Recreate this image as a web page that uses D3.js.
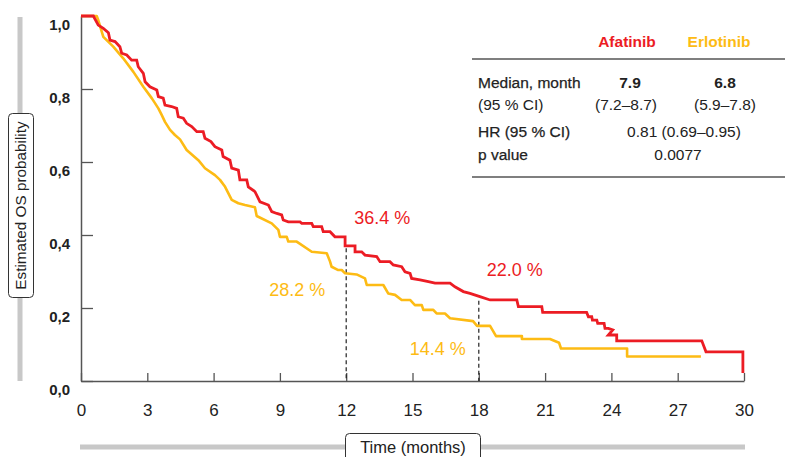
<!DOCTYPE html>
<html>
<head>
<meta charset="utf-8">
<script src="https://cdn.jsdelivr.net/npm/d3@7"></script>
<style>
  body { margin: 0; background: #fff; }
  text { font-family: "Liberation Sans", Arial, Helvetica, sans-serif; }
</style>
</head>
<body>
<div id="chart"></div>
<script>

// Kaplan-Meier curves (months, survival)
var afatinibTime = [0, 0.56, 0.78, 1.01, 1.24, 1.31, 1.54, 1.76, 1.84, 2.07, 2.29, 2.52, 2.59, 2.82, 2.90, 3.12, 3.43, 3.50, 3.72, 3.80, 4.10, 4.33, 4.40, 4.63, 4.78, 5.01, 5.24, 5.53, 5.61, 5.88, 6.06, 6.37, 6.43, 6.74, 6.82, 7.12, 7.19, 7.50, 7.57, 7.87, 8.10, 8.48, 8.63, 8.86, 9.08, 9.15, 9.38, 9.91, 9.99, 10.44, 10.51, 10.89, 10.96, 11.27, 11.49, 11.95, 11.95, 12.40, 12.40, 12.70, 12.85, 13.38, 13.53, 13.98, 14.13, 14.51, 14.66, 14.89, 14.96, 15.34, 15.72, 16.02, 16.70, 16.92, 17.30, 17.60, 18.05, 18.51, 19.72, 19.79, 20.85, 20.89, 22.88, 22.96, 23.11, 23.14, 23.34, 23.38, 23.67, 23.71, 23.86, 24.06, 23.86, 24.24, 24.24, 28.09, 28.28, 29.95, 29.95]
var afatinibSurv = [1.0, 1.0, 0.975, 0.966, 0.954, 0.934, 0.930, 0.916, 0.898, 0.893, 0.879, 0.879, 0.861, 0.843, 0.820, 0.806, 0.797, 0.779, 0.775, 0.756, 0.752, 0.747, 0.724, 0.720, 0.706, 0.697, 0.683, 0.683, 0.665, 0.656, 0.642, 0.633, 0.615, 0.605, 0.583, 0.578, 0.551, 0.551, 0.532, 0.519, 0.491, 0.482, 0.464, 0.459, 0.455, 0.441, 0.436, 0.436, 0.432, 0.432, 0.423, 0.423, 0.409, 0.409, 0.395, 0.395, 0.370, 0.370, 0.354, 0.354, 0.345, 0.341, 0.327, 0.327, 0.318, 0.313, 0.299, 0.295, 0.281, 0.277, 0.272, 0.268, 0.268, 0.258, 0.245, 0.240, 0.231, 0.222, 0.222, 0.204, 0.204, 0.188, 0.188, 0.176, 0.176, 0.167, 0.167, 0.158, 0.158, 0.144, 0.144, 0.140, 0.126, 0.126, 0.110, 0.110, 0.080, 0.080, 0.022]

var erlotinibTime = [0, 0.71, 0.78, 1.01, 1.46, 1.91, 2.37, 2.82, 3.20, 3.50, 3.65, 3.80, 4.03, 4.25, 4.48, 4.78, 5.31, 5.61, 6.06, 6.29, 6.52, 6.82, 7.12, 7.42, 7.87, 7.95, 8.63, 8.93, 9.00, 9.31, 9.38, 9.76, 10.44, 11.12, 11.27, 11.34, 11.64, 11.80, 11.95, 12.47, 12.85, 12.93, 13.68, 13.90, 14.21, 14.51, 14.89, 15.11, 15.42, 15.49, 15.94, 16.09, 16.47, 16.70, 17.74, 17.92, 18.51, 18.78, 19.95, 19.95, 21.22, 21.63, 21.72, 24.71, 24.71, 28.05]
var erlotinibSurv = [1.0, 1.0, 0.989, 0.943, 0.916, 0.884, 0.847, 0.806, 0.775, 0.747, 0.729, 0.710, 0.688, 0.674, 0.662, 0.633, 0.605, 0.583, 0.564, 0.551, 0.532, 0.496, 0.487, 0.482, 0.476, 0.452, 0.432, 0.414, 0.395, 0.395, 0.382, 0.382, 0.354, 0.350, 0.327, 0.313, 0.304, 0.304, 0.295, 0.292, 0.281, 0.263, 0.263, 0.240, 0.236, 0.222, 0.222, 0.208, 0.208, 0.195, 0.195, 0.185, 0.185, 0.172, 0.164, 0.151, 0.151, 0.123, 0.123, 0.115, 0.115, 0.105, 0.089, 0.089, 0.067, 0.067]

// landmark annotations
var landmarkTime = [12, 18]
var landmarkAfatinib = [0.364, 0.220]
var landmarkAfatinibText = ['36.4 %', '22.0 %']
var landmarkErlotinibText = ['28.2 %', '14.4 %']

// axis ticks
var xTicks = [0, 3, 6, 9, 12, 15, 18, 21, 24, 27, 30]
var yTicks = [0, 0.2, 0.4, 0.6, 0.8, 1.0]

// table content
var tableHead = ['Afatinib', 'Erlotinib']
var tableRows = ['Median, month', '(95 % CI)', 'HR (95 % CI)', 'p value']
var medianVals = ['7.9', '6.8']
var ciVals = ['(7.2\u20138.7)', '(5.9\u20137.8)']
var hrVal = '0.81 (0.69\u20130.95)'
var pVal = '0.0077'

var red = '#ec1c24'
var yellow = '#fdbb14'
var W = 785, H = 457

var svg = d3.select('#chart').append('svg')
    .attr('width', W)
    .attr('height', H)

var x = d3.scaleLinear().domain([0, 30]).range([81, 744])
var y = d3.scaleLinear().domain([0, 1]).range([381, 16])

// grey side bars + boxed axis titles
svg.append('rect')
  .attr('x', 17.5).attr('y', 17).attr('width', 5).attr('height', 364)
  .attr('fill', '#c8c8c8')

svg.append('rect')
  .attr('x', 8.5).attr('y', 113.5).attr('width', 25).attr('height', 184)
  .attr('rx', 4)
  .attr('fill', '#fff').attr('stroke', '#333').attr('stroke-width', 1)

svg.append('text')
  .attr('transform', 'translate(26,205.5) rotate(-90)')
  .attr('text-anchor', 'middle')
  .attr('font-size', 15.3)
  .attr('fill', '#222')
  .text('Estimated OS probability')

svg.append('rect')
  .attr('x', 80).attr('y', 444.5).attr('width', 665).attr('height', 5)
  .attr('fill', '#c8c8c8')

svg.append('rect')
  .attr('x', 345.5).attr('y', 433.5).attr('width', 135).attr('height', 40)
  .attr('rx', 4)
  .attr('fill', '#fff').attr('stroke', '#333').attr('stroke-width', 1)

svg.append('text')
  .attr('x', 413).attr('y', 453)
  .attr('text-anchor', 'middle')
  .attr('font-size', 16.5)
  .attr('fill', '#222')
  .text('Time (months)')

// y axis
var yAxis = svg.append('g')
  .attr('transform', 'translate(' + x(0) + ',0)')
  .call(d3.axisLeft(y).tickValues(yTicks).tickSize(-12).tickSizeOuter(0)
        .tickFormat(function(d) { return d3.format('.1f')(d).replace('.', ',') }))
yAxis.selectAll('line').attr('stroke', '#555').attr('stroke-width', 1.3)
yAxis.select('.domain').attr('stroke', '#555').attr('stroke-width', 1.5)
yAxis.selectAll('text')
  .attr('x', -11).attr('y', 13).attr('dy', 0)
  .attr('font-size', 15).attr('font-weight', 'bold')
  .attr('fill', '#222')
  .style('font-family', '"Liberation Sans", Arial, sans-serif')

// x axis
var xAxis = svg.append('g')
  .attr('transform', 'translate(0,' + y(0) + ')')
  .call(d3.axisBottom(x).tickValues(xTicks).tickSize(-8).tickSizeOuter(0))
xAxis.selectAll('line').attr('stroke', '#555').attr('stroke-width', 1.3)
xAxis.select('.domain').attr('stroke', '#555').attr('stroke-width', 1.5)
xAxis.selectAll('text')
  .attr('y', 35).attr('dy', 0)
  .attr('font-size', 17)
  .attr('fill', '#222')
  .style('font-family', '"Liberation Sans", Arial, sans-serif')

// dashed landmark lines
for (i in landmarkTime) {
  svg.append('line')
    .attr('x1', x(landmarkTime[i])).attr('x2', x(landmarkTime[i]))
    .attr('y1', y(landmarkAfatinib[i])).attr('y2', y(0))
    .attr('stroke', '#222')
    .attr('stroke-width', 1.2)
    .attr('stroke-dasharray', '4,3')
}

// survival curves
var line = d3.line()
  .x(function(d) { return x(d[0]) })
  .y(function(d) { return y(d[1]) })

var erl = d3.zip(erlotinibTime, erlotinibSurv)
var afa = d3.zip(afatinibTime, afatinibSurv)

svg.append('path')
  .datum(erl)
  .attr('d', line)
  .attr('fill', 'none')
  .attr('stroke', yellow)
  .attr('stroke-width', 2.6)
  .attr('stroke-linejoin', 'round')

svg.append('path')
  .datum(afa)
  .attr('d', line)
  .attr('fill', 'none')
  .attr('stroke', red)
  .attr('stroke-width', 2.8)
  .attr('stroke-linejoin', 'miter')

// landmark percentages
svg.append('text').attr('x', x(12) + 8).attr('y', 224)
  .attr('font-size', 18).attr('fill', red).text(landmarkAfatinibText[0])
svg.append('text').attr('x', x(18) + 8).attr('y', 276)
  .attr('font-size', 18).attr('fill', red).text(landmarkAfatinibText[1])
svg.append('text').attr('x', x(12) - 21).attr('y', 296)
  .attr('text-anchor', 'end')
  .attr('font-size', 18).attr('fill', yellow).text(landmarkErlotinibText[0])
svg.append('text').attr('x', x(18) - 13).attr('y', 355)
  .attr('text-anchor', 'end')
  .attr('font-size', 18).attr('fill', yellow).text(landmarkErlotinibText[1])

// results table
svg.append('text').attr('x', 627).attr('y', 47)
  .attr('text-anchor', 'middle').attr('font-size', 15.5).attr('font-weight', 'bold')
  .attr('fill', red).text(tableHead[0])
svg.append('text').attr('x', 719).attr('y', 47)
  .attr('text-anchor', 'middle').attr('font-size', 15.5).attr('font-weight', 'bold')
  .attr('fill', yellow).text(tableHead[1])

svg.append('line').attr('x1', 472).attr('x2', 785).attr('y1', 59).attr('y2', 59)
  .attr('stroke', '#555').attr('stroke-width', 1.5)
svg.append('line').attr('x1', 472).attr('x2', 785).attr('y1', 177).attr('y2', 177)
  .attr('stroke', '#555').attr('stroke-width', 1.5)

var rowY = [88, 110, 137, 160]
for (i in tableRows) {
  var t = svg.append('text')
    .attr('x', 478).attr('y', rowY[i])
    .attr('font-size', 15.5)
    .attr('fill', '#222')
    .text(tableRows[i])
  // row labels are a medium weight in the figure
  if (i != 1) t.attr('stroke', '#222').attr('stroke-width', 0.25)
}

svg.append('text').attr('x', 630).attr('y', rowY[0])
  .attr('text-anchor', 'middle').attr('font-size', 15.5).attr('font-weight', 'bold')
  .attr('fill', '#222').text(medianVals[0])
svg.append('text').attr('x', 725).attr('y', rowY[0])
  .attr('text-anchor', 'middle').attr('font-size', 15.5).attr('font-weight', 'bold')
  .attr('fill', '#222').text(medianVals[1])
svg.append('text').attr('x', 626).attr('y', rowY[1])
  .attr('text-anchor', 'middle').attr('font-size', 15.5)
  .attr('fill', '#222').text(ciVals[0])
svg.append('text').attr('x', 725).attr('y', rowY[1])
  .attr('text-anchor', 'middle').attr('font-size', 15.5)
  .attr('fill', '#222').text(ciVals[1])
svg.append('text').attr('x', 684).attr('y', rowY[2])
  .attr('text-anchor', 'middle').attr('font-size', 15.5)
  .attr('fill', '#222').text(hrVal)
svg.append('text').attr('x', 678).attr('y', rowY[3])
  .attr('text-anchor', 'middle').attr('font-size', 15.5)
  .attr('fill', '#222').text(pVal)

</script>
</body>
</html>
